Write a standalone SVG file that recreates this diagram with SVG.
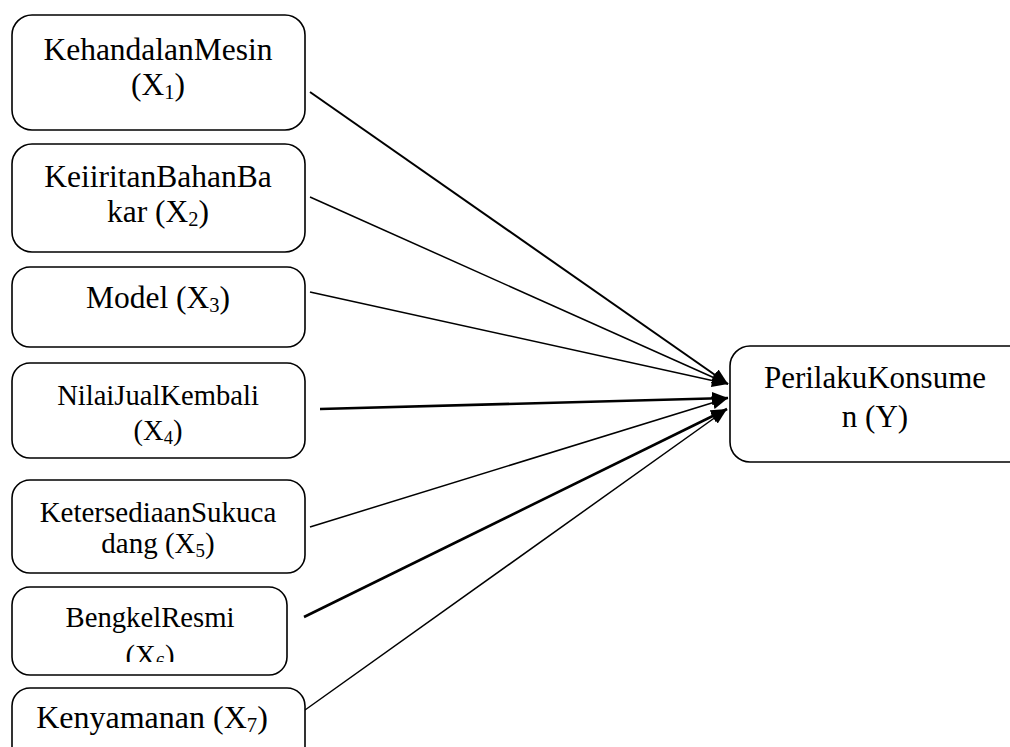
<svg xmlns="http://www.w3.org/2000/svg" width="1010" height="747" viewBox="0 0 1010 747">
<style>
.box{fill:#fff;stroke:#000;stroke-width:1.6}
.t{font-family:"Liberation Serif","Times New Roman",serif;fill:#000;text-anchor:middle}
.sub{font-size:0.65em}
.c{fill:none;stroke:#000}
</style>
<defs>
<marker id="ah" markerUnits="userSpaceOnUse" markerWidth="18" markerHeight="14" refX="16" refY="6.5" orient="auto">
<path d="M0,0 L16,6.5 L0,13 z" fill="#000"/>
</marker>
<clipPath id="clip6"><rect x="0" y="580" width="300" height="82"/></clipPath>
</defs>
<rect width="1010" height="747" fill="#fff"/>
<g id="connectors">
<line class="c" stroke-width="2" x1="310" y1="92" x2="728" y2="384" marker-end="url(#ah)"/>
<line class="c" stroke-width="1.5" x1="310" y1="197" x2="728" y2="384" marker-end="url(#ah)"/>
<line class="c" stroke-width="1.5" x1="310" y1="292" x2="728" y2="384" marker-end="url(#ah)"/>
<line class="c" stroke-width="2.6" x1="320" y1="409" x2="728" y2="398" marker-end="url(#ah)"/>
<line class="c" stroke-width="1.5" x1="310" y1="527" x2="728" y2="398" marker-end="url(#ah)"/>
<line class="c" stroke-width="2.6" x1="304" y1="617" x2="727" y2="409" marker-end="url(#ah)"/>
<line class="c" stroke-width="1.5" x1="305" y1="710" x2="727" y2="409" marker-end="url(#ah)"/>
</g>
<g id="x1">
<rect class="box" x="12" y="15" width="293" height="115" rx="20"/>
<text class="t" font-size="31.5" x="158" y="60">KehandalanMesin</text>
<text class="t" font-size="31.5" x="158" y="95">(X<tspan class="sub" dy="4">1</tspan><tspan dy="-4">)</tspan></text>
</g>
<g id="x2">
<rect class="box" x="12" y="144" width="293" height="108" rx="20"/>
<text class="t" font-size="31.5" x="158" y="187">KeiiritanBahanBa</text>
<text class="t" font-size="31.5" x="158" y="222">kar (X<tspan class="sub" dy="4">2</tspan><tspan dy="-4">)</tspan></text>
</g>
<g id="x3">
<rect class="box" x="12" y="267" width="293" height="80" rx="18"/>
<text class="t" font-size="31.5" x="158" y="308">Model (X<tspan class="sub" dy="4">3</tspan><tspan dy="-4">)</tspan></text>
</g>
<g id="x4">
<rect class="box" x="12" y="363" width="293" height="95" rx="18"/>
<text class="t" font-size="28.6" x="158" y="405">NilaiJualKembali</text>
<text class="t" font-size="28.6" x="158" y="440">(X<tspan class="sub" dy="4">4</tspan><tspan dy="-4">)</tspan></text>
</g>
<g id="x5">
<rect class="box" x="12" y="480" width="293" height="93" rx="18"/>
<text class="t" font-size="29" x="158" y="522">KetersediaanSukuca</text>
<text class="t" font-size="29" x="158" y="553">dang (X<tspan class="sub" dy="4">5</tspan><tspan dy="-4">)</tspan></text>
</g>
<g id="x6">
<rect class="box" x="12" y="587" width="275" height="88" rx="18"/>
<text class="t" font-size="28.7" x="150" y="627">BengkelResmi</text>
<text class="t" font-size="28.7" x="150" y="665" clip-path="url(#clip6)">(X<tspan class="sub" dy="4">6</tspan><tspan dy="-4">)</tspan></text>
</g>
<g id="x7">
<rect class="box" x="12" y="688" width="293" height="90" rx="18"/>
<text class="t" font-size="32" x="152" y="728">Kenyamanan (X<tspan class="sub" dy="4">7</tspan><tspan dy="-4">)</tspan></text>
</g>
<g id="y">
<rect class="box" x="730" y="346" width="300" height="116" rx="20"/>
<text class="t" font-size="31" x="875" y="388">PerilakuKonsume</text>
<text class="t" font-size="31" x="875" y="427">n (Y)</text>
</g>
</svg>
